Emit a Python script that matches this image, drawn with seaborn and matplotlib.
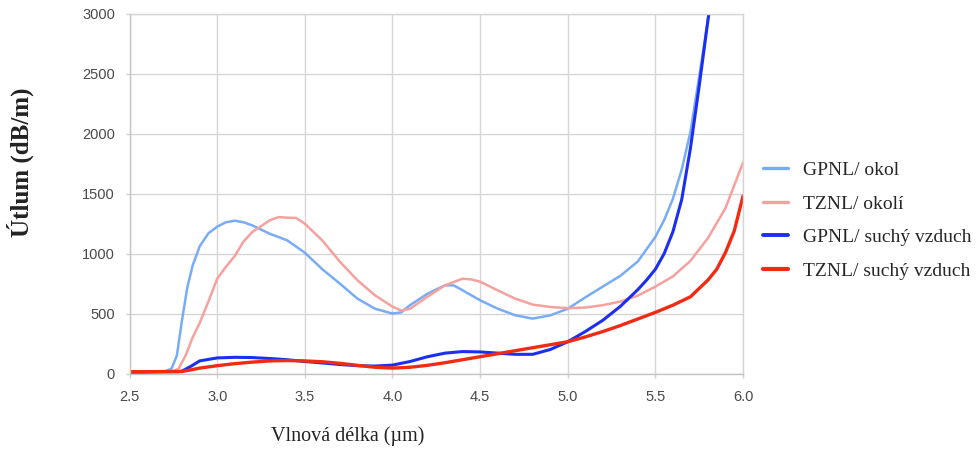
import numpy as np
import pandas as pd
import matplotlib
matplotlib.use("Agg")
import matplotlib.pyplot as plt
import seaborn as sns
from matplotlib.lines import Line2D

# ---- data ----
labels = ["GPNL/ okol", "TZNL/ okolí", "GPNL/ suchý vzduch", "TZNL/ suchý vzduch"]

gpnl_okol_x = [2.5, 2.6, 2.7, 2.74, 2.77, 2.8, 2.83, 2.86, 2.9, 2.95, 3.0, 3.05, 3.1, 3.15, 3.2, 3.3, 3.4,
               3.5, 3.6, 3.7, 3.8, 3.9, 4.0, 4.05, 4.1, 4.2, 4.3, 4.35, 4.4, 4.5, 4.6, 4.7, 4.8, 4.9,
               5.0, 5.1, 5.2, 5.3, 5.4, 5.5, 5.55, 5.6, 5.65, 5.7, 5.75, 5.8, 5.82]
gpnl_okol_y = [10, 12, 18, 40, 150, 450, 720, 900, 1060, 1170, 1225, 1262, 1275, 1262, 1236, 1166, 1111,
               1008, 870, 750, 625, 541, 500, 510, 570, 666, 736, 735, 694, 611, 541, 486, 458, 485,
               540, 635, 725, 815, 935, 1140, 1280, 1458, 1700, 2016, 2480, 2950, 3150]

tznl_okol_x = [2.5, 2.6, 2.7, 2.75, 2.78, 2.82, 2.86, 2.9, 2.95, 3.0, 3.05, 3.1, 3.15, 3.2, 3.3, 3.35, 3.4,
               3.45, 3.5, 3.6, 3.7, 3.8, 3.9, 4.0, 4.05, 4.1, 4.2, 4.3, 4.4, 4.45, 4.5, 4.6, 4.7, 4.8,
               4.9, 5.0, 5.1, 5.2, 5.3, 5.4, 5.5, 5.6, 5.7, 5.8, 5.9, 6.0]
tznl_okol_y = [10, 12, 15, 20, 40, 150, 300, 420, 600, 790, 890, 980, 1100, 1180, 1278, 1305, 1300,
               1298, 1250, 1110, 933, 778, 653, 558, 525, 540, 641, 736, 791, 785, 766, 694, 625, 575,
               555, 545, 550, 570, 600, 650, 725, 810, 940, 1130, 1380, 1760]

gpnl_sv_x = [2.5, 2.6, 2.7, 2.78, 2.8, 2.85, 2.9, 3.0, 3.1, 3.2, 3.3, 3.4, 3.5, 3.6, 3.7, 3.8, 3.9, 4.0,
             4.1, 4.2, 4.3, 4.4, 4.5, 4.6, 4.7, 4.8, 4.9, 5.0, 5.1, 5.2, 5.3, 5.4, 5.45, 5.5, 5.55,
             5.6, 5.65, 5.7, 5.75, 5.8, 5.82]
gpnl_sv_y = [10, 12, 14, 15, 20, 60, 105, 130, 135, 133, 125, 115, 100, 88, 75, 65, 62, 70,
             100, 140, 170, 183, 180, 170, 160, 160, 200, 265, 350, 444, 560, 700, 780, 870, 1000,
             1183, 1450, 1880, 2400, 2950, 3150]

tznl_sv_x = [2.5, 2.6, 2.7, 2.8, 2.85, 2.9, 3.0, 3.1, 3.2, 3.3, 3.4, 3.5, 3.6, 3.7, 3.8, 3.9, 4.0, 4.1,
             4.2, 4.3, 4.4, 4.5, 4.6, 4.7, 4.8, 4.9, 5.0, 5.1, 5.2, 5.3, 5.4, 5.5, 5.6, 5.7, 5.8,
             5.85, 5.9, 5.95, 6.0]
tznl_sv_y = [15, 15, 16, 17, 30, 45, 65, 82, 95, 105, 108, 105, 98, 85, 68, 52, 45, 52,
             68, 90, 115, 140, 165, 190, 215, 240, 265, 305, 350, 400, 455, 510, 570, 640, 780,
             870, 1010, 1190, 1480]

x_ticks = [2.5, 3.0, 3.5, 4.0, 4.5, 5.0, 5.5, 6.0]
y_ticks = [0, 500, 1000, 1500, 2000, 2500, 3000]

colors = ["#78acf6", "#f5a19d", "#1b2ff0", "#f22a12"]
widths = [1.8, 1.8, 2.2, 2.4]

frames = []
for lab, xs, ys in zip(labels,
                       [gpnl_okol_x, tznl_okol_x, gpnl_sv_x, tznl_sv_x],
                       [gpnl_okol_y, tznl_okol_y, gpnl_sv_y, tznl_sv_y]):
    frames.append(pd.DataFrame({"x": xs, "y": ys, "series": lab}))
df = pd.concat(frames, ignore_index=True)

sns.set_theme(style="whitegrid")
plt.rcParams["font.family"] = ["Liberation Sans", "DejaVu Sans"]

fig = plt.figure(figsize=(9.76, 4.5), dpi=100)
ax = fig.add_axes([0.1327, 0.170, 0.6286, 0.799])

sns.lineplot(data=df, x="x", y="y", hue="series", hue_order=labels,
             palette=dict(zip(labels, colors)), sort=False, estimator=None,
             ax=ax, legend=False)
for line, w in zip(ax.get_lines(), widths):
    line.set_linewidth(w)
    line.set_solid_joinstyle("round")
    line.set_solid_capstyle("round")

ax.set_xlim(2.5, 6.0)
ax.set_ylim(0, 3000)
ax.set_xticks(x_ticks)
ax.set_xticklabels([f"{t:.1f}" for t in x_ticks])
ax.set_yticks(y_ticks)
ax.set_yticklabels([str(t) for t in y_ticks])
ax.tick_params(axis="both", labelsize=10.5, labelcolor="#4a4a4a", color="#d0d0d0",
               length=3, width=1.0, direction="out")
ax.tick_params(axis="y", pad=7.5, left=True)
ax.tick_params(axis="x", pad=9, bottom=True)
ax.grid(True, color="#d6d6d6", linewidth=1.0)
for s in ax.spines.values():
    s.set_color("#d6d6d6")
    s.set_linewidth(1.0)
ax.spines["left"].set_color("#c4c4c4")
ax.spines["bottom"].set_color("#c4c4c4")

ax.set_xlabel("Vlnová délka (µm)", fontsize=14.5, family=["Liberation Serif", "DejaVu Serif"],
              color="#222222")
ax.xaxis.set_label_coords(0.356, -0.148)
ax.set_ylabel("Útlum (dB/m)", fontsize=18, family=["Liberation Serif", "DejaVu Serif"],
              fontweight="bold", color="#222222")
ax.yaxis.set_label_coords(-0.155, 0.588)

handles = [Line2D([0], [0], color=c, lw=w + 0.6) for c, w in zip(colors, widths)]
fig.legend(handles, labels, loc="upper left", bbox_to_anchor=(0.782, 0.641),
           frameon=False, prop={"family": "Liberation Serif", "size": 14},
           handlelength=1.25, handletextpad=0.8, labelspacing=0.82, borderaxespad=0,
           borderpad=0)

fig.savefig("out.png", dpi=100, facecolor="white")
